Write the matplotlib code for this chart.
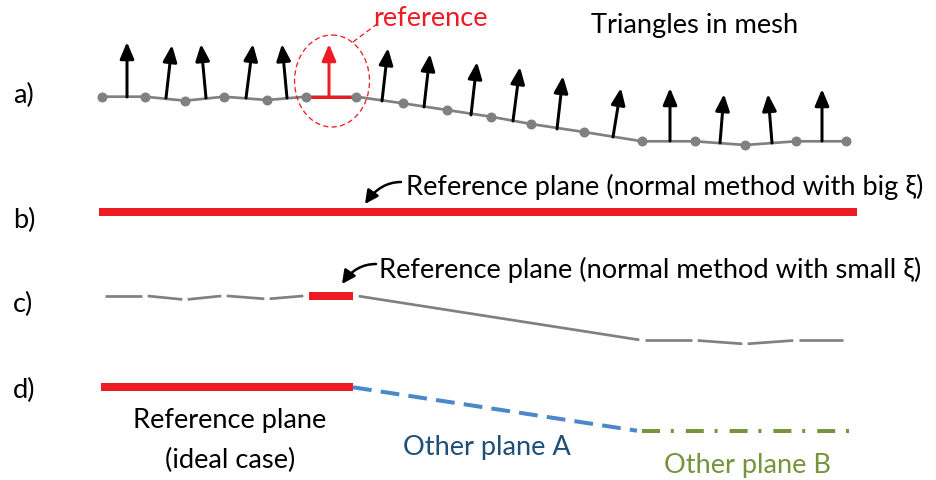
import numpy as np
import matplotlib.pyplot as plt
from matplotlib.patches import Ellipse, FancyArrowPatch

# mesh nodes of row a) (pixel coordinates, y downward)
node_x = [102, 145, 185, 224, 267, 306, 356, 403, 447, 491, 531, 584, 642, 695, 745, 796, 846]
node_y = [97.7, 97.7, 101.7, 97.7, 101, 97.7, 97.7, 104.3, 111, 117.7, 125, 133, 142.3, 142.3, 146, 142.3, 142.3]

# normals of the triangles: base and tip
arrow_x0 = [127, 166, 206, 246, 287, 329, 382, 424, 471, 513, 557, 613, 670, 720, 772, 822]
arrow_y0 = [98, 99, 99, 99, 99, 98, 102, 108, 116, 122, 130, 138, 142, 144, 144, 142]
arrow_x1 = [127, 172, 201, 253, 282, 329, 388, 430, 477, 520, 563, 621, 670, 724, 768, 822]
arrow_y1 = [43, 46, 45, 45, 45, 45, 49, 55, 63, 68, 77, 89, 89, 95, 95, 90]
ref_idx = 5  # the reference triangle

row_labels = ["a)", "b)", "c)", "d)"]
row_label_y = [103, 228, 312, 398]
c_shift = 199  # row c) is the mesh moved down

RED = "#ed1c24"
GRAY = "#808080"
BLUE = "#4a88c9"
DBLUE = "#1f4e79"
GREEN = "#77933c"
FONT = ["Lato", "DejaVu Sans"]
FS = 19.6

fig = plt.figure(figsize=(9.36, 4.81), dpi=100)
ax = fig.add_axes([0, 0, 1, 1])
ax.set_xlim(0, 936)
ax.set_ylim(481, 0)
ax.axis("off")

px = 0.72  # pixels -> points at 100 dpi


def shrunk(i, j, dy=0, gap=2.7):
    x0, y0 = node_x[i], node_y[i] + dy
    x1, y1 = node_x[j], node_y[j] + dy
    d = np.hypot(x1 - x0, y1 - y0)
    ux, uy = (x1 - x0) / d, (y1 - y0) / d
    return [x0 + ux * gap, x1 - ux * gap], [y0 + uy * gap, y1 - uy * gap]


def label_arrow(p0, p1):
    ax.add_patch(FancyArrowPatch(p0, p1, connectionstyle="angle3,angleA=0,angleB=55",
                                 arrowstyle="-|>,head_length=0.8,head_width=0.4",
                                 mutation_scale=10, color="black", lw=2.5 * px,
                                 shrinkA=0, shrinkB=0))


# a) mesh
ax.plot(node_x, node_y, color=GRAY, lw=2.7 * px, zorder=2)
ax.plot(node_x[ref_idx:ref_idx + 2], node_y[ref_idx:ref_idx + 2], color=RED, lw=3 * px, zorder=3)
ax.plot(node_x, node_y, "o", color=GRAY, ms=10 * px, mec="none", zorder=4)
for k in range(len(arrow_x0)):
    col = RED if k == ref_idx else "black"
    ax.add_patch(FancyArrowPatch((arrow_x0[k], arrow_y0[k]), (arrow_x1[k], arrow_y1[k]),
                                 arrowstyle="-|>,head_length=1.0,head_width=0.42",
                                 mutation_scale=10, color=col, lw=3 * px,
                                 shrinkA=0, shrinkB=0, zorder=5))
ax.add_patch(Ellipse((332, 82), 75, 92, fill=False, ec=RED, lw=1.3 * px,
                     ls=(0, (4, 2.5)), zorder=3))
ax.plot([353, 377], [43, 25], color=RED, lw=1.3 * px, ls=(0, (4, 2.5)))
ax.text(373, 26, "reference", color=RED, fontsize=FS, family=FONT, ha="left", va="baseline")
ax.text(695, 33, "Triangles in mesh", color="black", fontsize=FS, family=FONT, ha="center", va="baseline")

# b) one big plane
ax.plot([node_x[0] - 3, node_x[-1] + 11], [213.3, 213.3], color=RED, lw=8 * px, solid_capstyle="butt")
ax.text(406, 195, "Reference plane (normal method with big ξ)", fontsize=FS, family=FONT,
        ha="left", va="baseline")
label_arrow((401, 183), (365, 205))

# c) small plane: mesh with gaps
for i in range(0, ref_idx):
    xs, ys = shrunk(i, i + 1, c_shift)
    ax.plot(xs, ys, color=GRAY, lw=2.7 * px, solid_capstyle="butt")
xs, ys = shrunk(ref_idx, ref_idx + 1, c_shift)
ax.plot(xs, ys, color=RED, lw=8 * px, solid_capstyle="butt")
xs, ys = shrunk(ref_idx + 1, 12, c_shift)
ax.plot(xs, ys, color=GRAY, lw=2.7 * px, solid_capstyle="butt")
for i in range(12, len(node_x) - 1):
    xs, ys = shrunk(i, i + 1, c_shift)
    ax.plot(xs, ys, color=GRAY, lw=2.7 * px, solid_capstyle="butt")
ax.text(379, 278, "Reference plane (normal method with small ξ)", fontsize=FS, family=FONT,
        ha="left", va="baseline")
label_arrow((376, 265), (342, 285))

# d) ideal case
ax.plot([101, 353], [388.3, 388.3], color=RED, lw=8 * px, solid_capstyle="butt")
ax.plot([353, 637], [388.3, 431.7], color=BLUE, lw=4 * px, ls=(0, (4.7, 2.3)))
ax.plot([642, 852], [432, 432], color=GREEN, lw=4 * px, ls=(0, (4.5, 2.7, 0.75, 3)))
ax.text(230, 428, "Reference plane", fontsize=FS, family=FONT, ha="center", va="baseline")
ax.text(230, 468, "(ideal case)", fontsize=FS, family=FONT, ha="center", va="baseline")
ax.text(487, 455, "Other plane A", color=DBLUE, fontsize=FS, family=FONT, ha="center", va="baseline")
ax.text(748, 473, "Other plane B", color=GREEN, fontsize=FS, family=FONT, ha="center", va="baseline")

for lab, y in zip(row_labels, row_label_y):
    ax.text(13, y, lab, fontsize=FS, family=FONT, ha="left", va="baseline")

fig.savefig("out.png", dpi=100)
